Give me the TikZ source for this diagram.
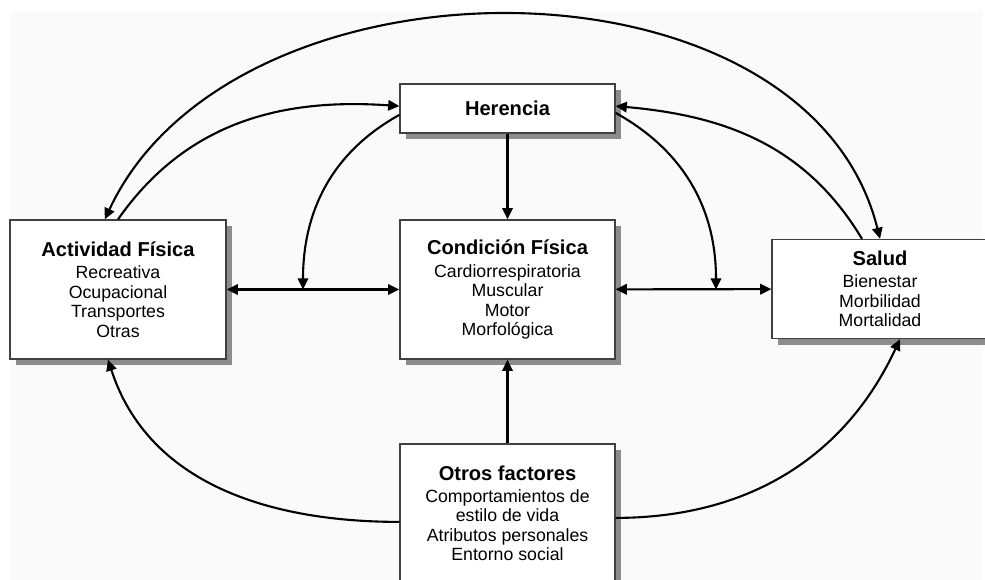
\documentclass[tikz,border=0pt]{standalone}
\usepackage{fontspec}
\setmainfont{Liberation Sans}
\usetikzlibrary{arrows.meta, shadows}

\newcommand{\titulo}[1]{{\fontsize{14.3}{16}\selectfont\bfseries #1}}

\begin{document}
\begin{tikzpicture}[
		caja/.style={rectangle, draw=black!75, line width=0.9pt, fill=white, align=center,
				minimum width=5.4cm, minimum height=3.475cm, inner sep=0pt,
				font=\fontsize{12.6}{13.9}\selectfont,
				drop shadow={shadow xshift=0.16cm, shadow yshift=-0.16cm, fill=black!45, opacity=1}},
		flecha/.style={line width=1.5pt, -{Triangle[length=2.8mm, width=2.6mm]}},
		doble/.style={line width=1.5pt, {Triangle[length=2.8mm, width=2.6mm]}-{Triangle[length=2.8mm, width=2.6mm]}},
	]

	\clip (0,0) rectangle (24.625,-14.5);
	\fill [black!2] (0.25,-0.3) rectangle (24.575,-14.5);

	% --- Cajas ---
	\node (act)  [caja] at (2.95,    -7.2375) {\titulo{Actividad Física}\\[0.08cm] Recreativa\\ Ocupacional\\ Transportes\\ Otras};
	\node (her)  [caja, minimum width=5.375cm, minimum height=1.225cm] at (12.6875, -2.7125) {\titulo{Herencia}};
	\node (cond) [caja, minimum width=5.375cm] at (12.6875, -7.2375) {\titulo{Condición Física}\\[0.08cm] Cardiorrespiratoria\\ Muscular\\ Motor\\ Morfológica};
	\node (sal)  [caja, minimum height=2.475cm] at (22.0, -7.225) {\titulo{Salud}\\[0.06cm] Bienestar\\ Morbilidad\\ Mortalidad};
	\node (otr)  [caja, minimum width=5.375cm] at (12.6875, -12.8375) {\titulo{Otros factores}\\[0.06cm] Comportamientos de\\ estilo de vida\\ Atributos personales\\ Entorno social};

	% --- Puntos sobre las lineas horizontales ---
	\coordinate (ja) at (7.575, -7.2375);
	\coordinate (jb) at (17.9,  -7.2375);

	% --- Flechas rectas ---
	\draw [flecha] (her) -- (cond);
	\draw [flecha] (otr) -- (cond);
	\draw [doble] (act) -- (cond);
	\draw [doble] (cond) -- (sal);

	% --- Herencia sobre las relaciones ---
	\draw [flecha] ([yshift=-0.16cm]her.west) to[out=209, in=90] (ja);
	\draw [flecha] ([yshift=-0.11cm]her.east) to[out=-29, in=90] (jb);

	% --- Actividad y Salud con Herencia ---
	\draw [flecha] (act.north) to[out=55, in=176] ([yshift=0.06cm]her.west);
	\draw [flecha] ([xshift=-0.45cm]sal.north) to[out=121, in=-5] ([yshift=0.06cm]her.east);
	\draw [doble] ([xshift=-0.33cm]act.north) to[out=65, in=104] (sal.north);

	% --- Otros factores ---
	\draw [flecha] ([yshift=-0.21cm]otr.west) to[out=180, in=-72] ([xshift=-0.25cm]act.south);
	\draw [flecha] ([yshift=-0.11cm]otr.east) to[out=0, in=-115] ([xshift=0.5cm]sal.south);

\end{tikzpicture}
\end{document}
